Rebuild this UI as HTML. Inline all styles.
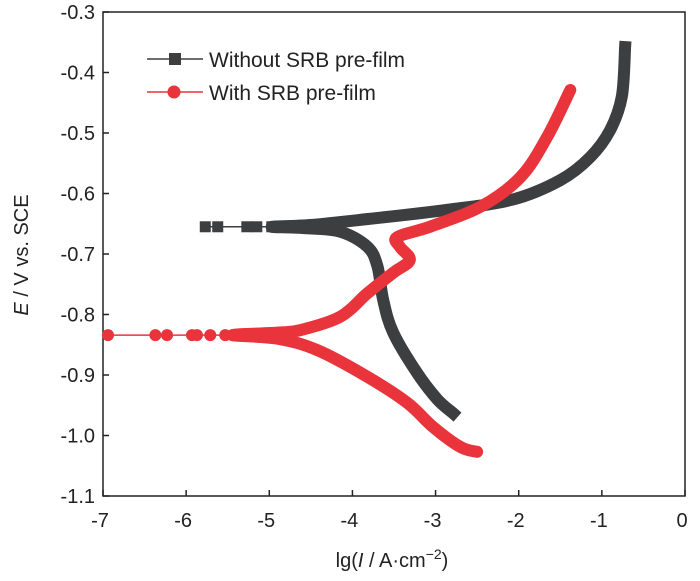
<!DOCTYPE html>
<html><head><meta charset="utf-8"><style>
body{margin:0;background:#fff;}
svg{display:block;font-family:"Liberation Sans",sans-serif;}
</style></head><body>
<svg id="chart" width="700" height="581"></svg>
<script>
const xTicks=[-7,-6,-5,-4,-3,-2,-1,0];
const yTicks=[-0.3,-0.4,-0.5,-0.6,-0.7,-0.8,-0.9,-1.0,-1.1];
const yTickLabels=["-0.3","-0.4","-0.5","-0.6","-0.7","-0.8","-0.9","-1.0","-1.1"];
const blackX=[-2.79,-2.98,-3.22,-3.51,-3.63,-3.70,-3.82,-4.15,-4.6,-4.97,-4.5,-3.8,-2.86,-2.07,-1.5,-1.14,-0.90,-0.76,-0.72];
const blackY=[-0.963,-0.94,-0.897,-0.83,-0.776,-0.72,-0.688,-0.663,-0.657,-0.655,-0.652,-0.642,-0.627,-0.61,-0.578,-0.54,-0.495,-0.44,-0.358];
const blackMarkX=[-5.77,-5.62,-5.27,-5.15,-4.97];
const blackMarkY=[-0.655,-0.655,-0.655,-0.655,-0.655];
const redX=[-2.5,-2.70,-3.03,-3.34,-3.82,-4.42,-4.9,-5.44,-4.9,-4.63,-4.15,-3.82,-3.51,-3.31,-3.43,-3.46,-3.07,-2.46,-1.98,-1.66,-1.38];
const redY=[-1.027,-1.019,-0.986,-0.946,-0.903,-0.859,-0.840,-0.834,-0.830,-0.826,-0.804,-0.765,-0.731,-0.71,-0.688,-0.672,-0.655,-0.622,-0.573,-0.507,-0.429];
const redMarkX=[-6.94,-6.37,-6.23,-5.93,-5.87,-5.71,-5.53,-5.44];
const redMarkY=[-0.834,-0.834,-0.834,-0.834,-0.834,-0.834,-0.834,-0.834];
const L=103,R=685,T=12,B=496;
const sx=v=>L+(v+7)/7*(R-L);
const sy=v=>T+(-0.3-v)/0.8*(B-T);
const NS="http://www.w3.org/2000/svg";
const svg=document.getElementById('chart');
function el(t,a,p){const e=document.createElementNS(NS,t);for(const k in a)e.setAttribute(k,a[k]);(p||svg).appendChild(e);return e;}
let e;
e=el('rect',{x:L,y:T,width:R-L,height:B-T,fill:'none',stroke:'#222','stroke-width':1.5});

xTicks.forEach(t=>{el('line',{x1:sx(t),x2:sx(t),y1:B,y2:B-6,stroke:'#222','stroke-width':1.5});
 const tx=el('text',{x:sx(t)-3,y:B+31,'text-anchor':'middle','font-size':20,fill:'#222'});tx.textContent=t;
 });
yTicks.forEach((t,i)=>{el('line',{x1:L,x2:L+6,y1:sy(t),y2:sy(t),stroke:'#222','stroke-width':1.5});
 const tx=el('text',{x:L-8,y:sy(t)+7,'text-anchor':'end','font-size':20,fill:'#222'});tx.textContent=yTickLabels[i];
 });
e=el('text',{x:392,y:567,'text-anchor':'middle','font-size':20,fill:'#222'});
e.innerHTML='lg(<tspan font-style="italic">I</tspan> / A·cm<tspan dy="-8" font-size="14">−2</tspan><tspan dy="8">)</tspan>';

e=el('text',{x:0,y:0,'text-anchor':'middle','font-size':20,fill:'#222',transform:'translate(28,255) rotate(-90)'});
e.innerHTML='<tspan font-style="italic">E</tspan> / V vs. SCE';

function path(xs,ys){
 const p=xs.map((x,i)=>[sx(x),sy(ys[i])]);
 let d='M'+p[0][0].toFixed(1)+' '+p[0][1].toFixed(1);
 for(let i=0;i<p.length-1;i++){
  const p0=p[Math.max(0,i-1)],p1=p[i],p2=p[i+1],p3=p[Math.min(p.length-1,i+2)];
  const c1=[p1[0]+(p2[0]-p0[0])/6,p1[1]+(p2[1]-p0[1])/6];
  const c2=[p2[0]-(p3[0]-p1[0])/6,p2[1]-(p3[1]-p1[1])/6];
  d+=' C'+c1.map(v=>v.toFixed(1)).join(' ')+' '+c2.map(v=>v.toFixed(1)).join(' ')+' '+p2[0].toFixed(1)+' '+p2[1].toFixed(1);
 }
 return d;
}
el('line',{x1:sx(-5.77),x2:sx(-4.97),y1:sy(-0.655),y2:sy(-0.655),stroke:'#3d3e40','stroke-width':1.5});
e=el('path',{d:path(blackX,blackY),fill:'none',stroke:'#3d3e40','stroke-width':12,'stroke-linejoin':'round','stroke-linecap':'square'});

blackMarkX.forEach((x,i)=>{const m=el('rect',{x:sx(x)-5.5,y:sy(blackMarkY[i])-5.5,width:11,height:11,fill:'#3d3e40'});
 });
el('line',{x1:sx(-7),x2:sx(-5.4),y1:sy(-0.834),y2:sy(-0.834),stroke:'#e8343a','stroke-width':1.5});
e=el('path',{d:path(redX,redY),fill:'none',stroke:'#e8343a','stroke-width':12,'stroke-linejoin':'round','stroke-linecap':'round'});

redMarkX.forEach((x,i)=>{const m=el('circle',{cx:sx(x),cy:sy(redMarkY[i]),r:6,fill:'#e8343a'});
 });
const lg=el('g',{});
el('line',{x1:147,x2:203,y1:59,y2:59,stroke:'#3d3e40','stroke-width':1.5},lg);
el('rect',{x:169,y:53,width:12,height:12,fill:'#3d3e40'},lg);
e=el('text',{x:209,y:67,'font-size':21,fill:'#222'},lg);e.textContent='Without SRB pre-film';

el('line',{x1:147,x2:203,y1:92,y2:92,stroke:'#e8343a','stroke-width':1.5},lg);
el('circle',{cx:174,cy:92,r:6.5,fill:'#e8343a'},lg);
e=el('text',{x:209,y:100,'font-size':21,fill:'#222'},lg);e.textContent='With SRB pre-film';

</script>
</body></html>
